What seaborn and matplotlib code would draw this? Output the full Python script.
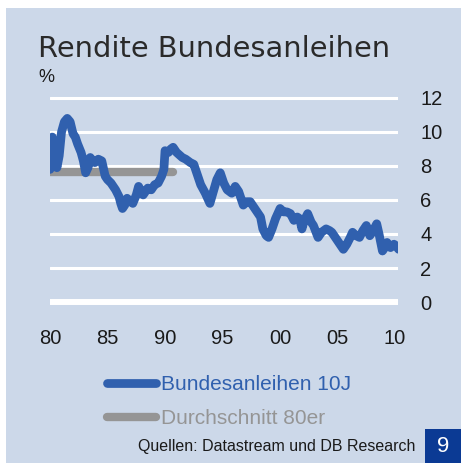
import numpy as np
import pandas as pd
import seaborn as sns
import matplotlib.pyplot as plt

sns.set_style('white')
plt.rcParams['font.family'] = ['Liberation Sans', 'DejaVu Sans']

# yields of 10y German government bonds
years = [1980.0, 1980.1, 1980.2, 1980.35, 1980.6, 1980.8, 1981.0, 1981.25, 1981.5, 1981.75,
         1982.0, 1982.2, 1982.4, 1982.7, 1982.9, 1983.1, 1983.3, 1983.5, 1983.7, 1983.9,
         1984.2, 1984.5, 1984.8, 1985.0, 1985.3, 1985.7, 1986.0, 1986.15, 1986.3, 1986.5,
         1986.7, 1987.0, 1987.2, 1987.5, 1987.7, 1988.0, 1988.1, 1988.5, 1988.8, 1989.1,
         1989.4, 1989.7, 1989.9, 1990.0, 1990.3, 1990.5, 1990.7, 1991.0, 1991.5, 1991.8,
         1992.2, 1992.5, 1992.8, 1993.1, 1993.5, 1993.9, 1994.2, 1994.5, 1994.8, 1995.1,
         1995.4, 1995.8, 1996.1, 1996.4, 1996.8, 1997.1, 1997.4, 1997.7, 1998.0, 1998.3,
         1998.5, 1998.8, 1999.0, 1999.3, 1999.6, 2000.0, 2000.3, 2000.6, 2000.9, 2001.2,
         2001.5, 2001.7, 2001.9, 2002.1, 2002.4, 2002.7, 2002.9, 2003.3, 2003.6, 2004.0,
         2004.3, 2004.5, 2004.8, 2005.2, 2005.5, 2005.8, 2006.1, 2006.3, 2006.6, 2006.9,
         2007.2, 2007.5, 2007.8, 2008.1, 2008.4, 2008.6, 2008.9, 2009.1, 2009.3, 2009.6,
         2009.9, 2010.1, 2010.3]
rendite = [7.8, 9.0, 9.7, 9.0, 7.9, 8.6, 10.0, 10.6, 10.8, 10.6,
           9.9, 9.7, 9.3, 8.8, 8.3, 7.6, 7.9, 8.5, 8.3, 8.2,
           8.4, 8.3, 7.4, 7.2, 7.0, 6.6, 6.2, 5.8, 5.5, 5.7,
           6.1, 5.9, 5.8, 6.3, 6.8, 6.4, 6.3, 6.7, 6.6, 6.9,
           7.0, 7.4, 7.8, 8.9, 8.8, 9.0, 9.1, 8.8, 8.5, 8.4,
           8.2, 8.1, 7.5, 6.9, 6.4, 5.8, 6.5, 7.2, 7.6, 7.0,
           6.6, 6.4, 6.8, 6.5, 5.7, 5.9, 5.9, 5.6, 5.3, 5.0,
           4.3, 3.9, 3.8, 4.3, 4.9, 5.5, 5.3, 5.3, 5.2, 4.8,
           5.0, 4.9, 4.3, 4.8, 5.2, 4.7, 4.5, 3.8, 4.1, 4.3,
           4.2, 4.1, 3.8, 3.4, 3.1, 3.4, 3.8, 4.1, 3.9, 3.8,
           4.2, 4.5, 3.9, 4.2, 4.6, 4.0, 3.0, 3.2, 3.5, 3.2,
           3.4, 3.3, 3.1]

avg_years = [1980.0, 1990.7]
avg_80er = [7.65, 7.65]

xticks = [1980, 1985, 1990, 1995, 2000, 2005, 2010]
xlabels = ['80', '85', '90', '95', '00', '05', '10']
yticks = [0, 2, 4, 6, 8, 10, 12]

blue = '#3060AE'
grey = '#959595'
bg = '#CCD8E9'

df = pd.DataFrame({'Jahr': years, 'Rendite': rendite})
df_avg = pd.DataFrame({'Jahr': avg_years, 'Rendite': avg_80er})

fig = plt.figure(figsize=(4.61, 4.63), dpi=100)
fig.patch.set_facecolor('white')
# light blue panel with a thin white margin at top and left
fig.patches.append(plt.Rectangle((6 / 461, 0), 1, 1 - 8 / 463, transform=fig.transFigure,
                                 facecolor=bg, edgecolor='none', zorder=-10))

ax = fig.add_axes([50 / 461, 1 - 305.4 / 463, 348 / 461, 210.8 / 463])
ax.set_zorder(2)
ax.set_facecolor('none')

for y in yticks[1:]:
    ax.axhline(y, color='white', lw=2.2, zorder=1)
ax.axhline(0, color='white', lw=4.3, zorder=1)

sns.lineplot(data=df, x='Jahr', y='Rendite', ax=ax, color=blue, lw=6.3,
             label='Bundesanleihen 10J', solid_capstyle='round', solid_joinstyle='round', zorder=3)
sns.lineplot(data=df_avg, x='Jahr', y='Rendite', ax=ax, color=grey, lw=6.0,
             label='Durchschnitt 80er', solid_capstyle='round', zorder=2)

ax.set_xlim(1980, 2010.25)
ax.set_ylim(-0.2, 12.2)
ax.set_xticks(xticks)
ax.set_xticklabels(xlabels)
ax.set_yticks(yticks)
ax.yaxis.tick_right()
ax.tick_params(axis='x', length=0, pad=17, labelsize=14.5, labelcolor='#1a1a1a')
ax.tick_params(axis='y', length=0, pad=16, labelsize=14.5, labelcolor='#1a1a1a')
for lab in ax.get_yticklabels():
    lab.set_horizontalalignment('left')
ax.set_xlabel('')
ax.set_ylabel('')
for s in ax.spines.values():
    s.set_visible(False)

leg = ax.legend(loc='upper left', bbox_to_anchor=(97 / 461, 1 - 365 / 463),
                bbox_transform=fig.transFigure, frameon=False, fontsize=15,
                handlelength=2.35, handletextpad=0.2, labelspacing=0.7,
                borderpad=0, labelcolor='linecolor')

fig.text(38 / 461, 1 - 57 / 463, 'Rendite Bundesanleihen', fontsize=20.8, color='#2a2a2a',
         family='DejaVu Sans')
fig.text(38 / 461, 1 - 82 / 463, '%', fontsize=13, color='#1a1a1a')
fig.text(415 / 461, 1 - 447 / 463, 'Quellen: Datastream und DB Research', fontsize=11.5,
         color='#1a1a1a', ha='right', va='center')
fig.patches.append(plt.Rectangle((425 / 461, 0), 36 / 461, 34 / 463, transform=fig.transFigure,
                                 facecolor='#0B3A94', edgecolor='none', zorder=1))
fig.text(443 / 461, 1 - 446 / 463, '9', fontsize=16, color='white', ha='center', va='center')

plt.savefig('out.png', dpi=100, facecolor=fig.get_facecolor())
